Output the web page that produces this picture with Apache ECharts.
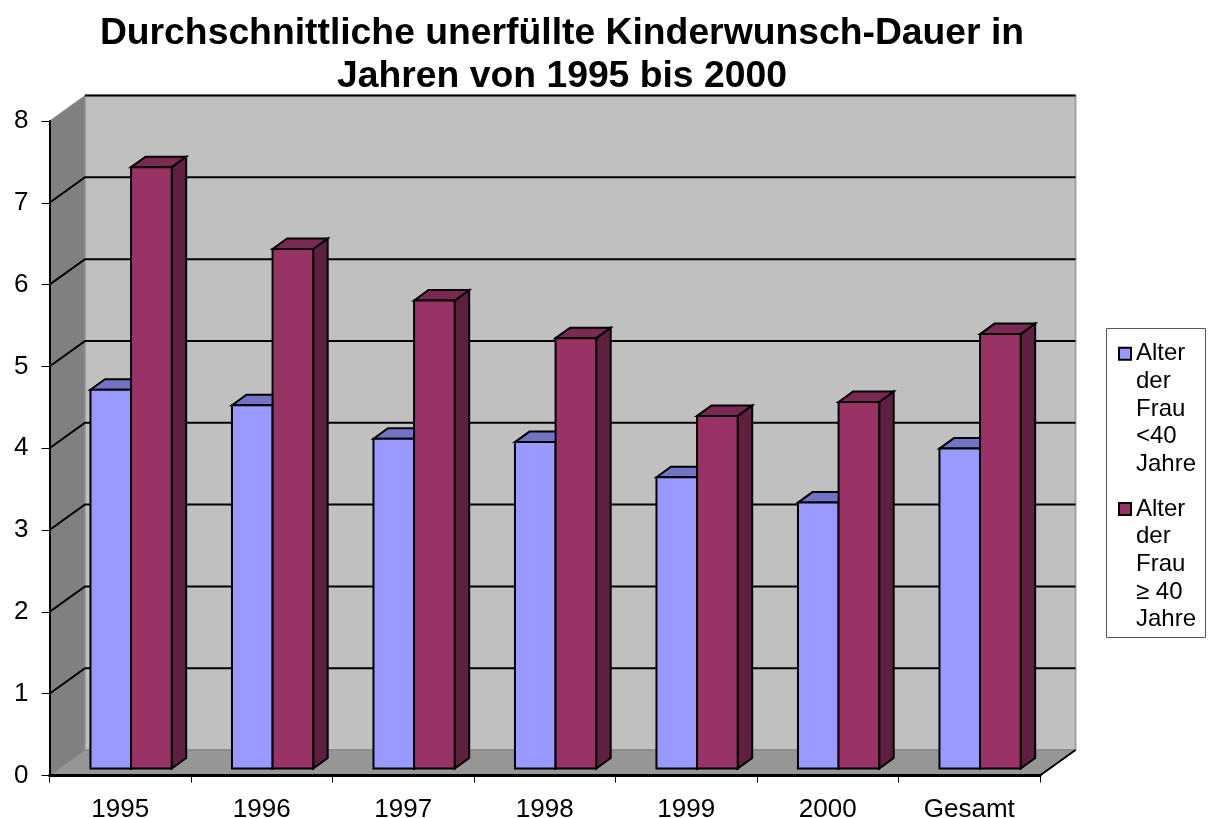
<!DOCTYPE html>
<html>
<head>
<meta charset="utf-8">
<title>Kinderwunsch-Dauer</title>
<script src="https://cdn.jsdelivr.net/npm/echarts@6/dist/echarts.min.js"></script>
<style>
  html, body { margin: 0; padding: 0; background: #fff; }
  #main { width: 1210px; height: 818px; }
</style>
</head>
<body>
<div id="main"></div>
<script>
const categories = ['1995', '1996', '1997', '1998', '1999', '2000', 'Gesamt']
const under40 = [4.63, 4.44, 4.03, 3.99, 3.56, 3.25, 3.91]
const over40 = [7.35, 6.35, 5.72, 5.26, 4.31, 4.48, 5.31]
const gridValues = [1, 2, 3, 4, 5, 6, 7]
const nameUnder40 = 'Alter\nder\nFrau\n<40\nJahre'
const nameOver40 = 'Alter\nder\nFrau\n≥ 40\nJahre'

const FONT = '"Liberation Sans", Arial, sans-serif'
// depth of the fake 3d box and of the bars, in px
const WALL_DX = 35.5
const WALL_DY = -25.5
const BAR_DX = 14.5
const BAR_DY = -10.5

function poly(points, fill, stroke, width) {
  return {
    type: 'polygon',
    shape: { points: points },
    style: { fill: fill, stroke: stroke || 'none', lineWidth: width || 0, lineJoin: 'miter' }
  }
}

function renderWalls(params, api) {
  const c = params.coordSys
  const l = c.x
  const r = c.x + c.width
  const t = c.y
  const b = c.y + c.height
  const top = t + WALL_DY
  const bot = b + WALL_DY
  return {
    type: 'group',
    children: [
      poly([[l + WALL_DX, top], [r + WALL_DX, top], [r + WALL_DX, bot], [l + WALL_DX, bot]], '#c0c0c0', '#a0a0a0', 2),
      poly([[l, t], [l + WALL_DX, top], [l + WALL_DX, bot], [l, b]], '#808080', '#9a9a9a', 1),
      poly([[l, b], [l + WALL_DX, bot], [r + WALL_DX, bot], [r, b]], '#969696', '#808080', 1),
      { type: 'line', shape: { x1: l + WALL_DX, y1: top, x2: r + WALL_DX, y2: top }, style: { stroke: '#000', lineWidth: 2 } },
      { type: 'line', shape: { x1: r, y1: b, x2: r + WALL_DX, y2: bot }, style: { stroke: '#000', lineWidth: 2 } }
    ]
  }
}

function renderGridLine(params, api) {
  const c = params.coordSys
  const y = api.coord([0, api.value(1)])[1]
  return {
    type: 'polyline',
    shape: { points: [[c.x, y], [c.x + WALL_DX, y + WALL_DY], [c.x + c.width + WALL_DX, y + WALL_DY]] },
    style: { fill: 'none', stroke: '#000', lineWidth: 2 }
  }
}

// side: 0 left bar of the pair, 1 right bar
function makeBarRenderer(side, front, topColor, sideColor) {
  return function(params, api) {
    const band = api.size([1, 0])[0]
    const w = band * 0.287
    const base = api.coord([api.value(0), 0])
    const head = api.coord([api.value(0), api.value(1)])
    const x0 = base[0] + band * 0.0765 - w + side * w
    const x1 = x0 + w
    const yb = base[1] - 7
    const yt = head[1] - 7
    return {
      type: 'group',
      children: [
        poly([[x1, yt], [x1 + BAR_DX, yt + BAR_DY], [x1 + BAR_DX, yb + BAR_DY], [x1, yb]], sideColor, '#000', 2),
        poly([[x0, yt], [x0 + BAR_DX, yt + BAR_DY], [x1 + BAR_DX, yt + BAR_DY], [x1, yt]], topColor, '#000', 2),
        poly([[x0, yt], [x1, yt], [x1, yb], [x0, yb]], front, '#000', 2)
      ]
    }
  }
}

const myChart = echarts.init(document.getElementById('main'), null, { renderer: 'canvas' })

myChart.setOption({
  animation: false,
  backgroundColor: '#fff',
  textStyle: { fontFamily: FONT },
  title: {
    text: 'Durchschnittliche unerfüllte Kinderwunsch-Dauer in\nJahren von 1995 bis 2000',
    left: 557,
    top: 7,
    textAlign: 'center',
    textStyle: { fontFamily: FONT, fontSize: 37.3, fontWeight: 'bold', lineHeight: 43, color: '#000' }
  },
  // the marker sits in the middle of the text, so 4 empty lines push it up to the first line
  legend: {
    orient: 'vertical',
    left: 1118,
    top: 229,
    padding: 0,
    itemGap: -94,
    itemWidth: 12,
    itemHeight: 12,
    itemStyle: { borderColor: '#000', borderWidth: 2 },
    selectedMode: false,
    icon: 'rect',
    data: [nameUnder40, nameOver40],
    formatter: function(name) { return '\n\n\n\n' + name },
    textStyle: { fontFamily: FONT, fontSize: 24, lineHeight: 27.7, color: '#000', padding: [0, 0, 0, 0] }
  },
  graphic: [{
    type: 'rect',
    z: -1,
    shape: { x: 1106.5, y: 328.5, width: 99, height: 309 },
    style: { fill: '#fff', stroke: '#555', lineWidth: 1 }
  }],
  // labels run close to the page edge, keep the grid where it was put
  grid: { left: 49.5, top: 121, width: 990.5, height: 654.5, outerBoundsMode: 'none' },
  xAxis: {
    type: 'category',
    data: categories,
    z: 2,
    axisLine: { lineStyle: { color: '#000', width: 3 } },
    axisTick: { show: true, length: 7, lineStyle: { color: '#000', width: 1 } },
    axisLabel: { color: '#000', fontSize: 26, fontFamily: FONT, margin: 21 },
    splitLine: { show: false }
  },
  yAxis: {
    type: 'value',
    min: 0,
    max: 8,
    interval: 1,
    z: 2,
    axisLine: { show: true, lineStyle: { color: '#000', width: 2 } },
    axisTick: { show: true, length: 8, lineStyle: { color: '#000', width: 1 } },
    axisLabel: { color: '#000', fontSize: 26, fontFamily: FONT, margin: 21, padding: [4, 0, 0, 0] },
    splitLine: { show: false }
  },
  series: [
    {
      name: 'walls',
      type: 'custom',
      z: 1,
      silent: true,
      renderItem: renderWalls,
      data: [[0, 0]],
      encode: { x: 0, y: 1 }
    },
    {
      name: 'gridlines',
      type: 'custom',
      z: 1,
      silent: true,
      renderItem: renderGridLine,
      data: gridValues.map(function(v) { return [0, v] }),
      encode: { x: 0, y: 1 }
    },
    {
      name: nameUnder40,
      type: 'custom',
      z: 3,
      itemStyle: { color: '#9999ff' },
      renderItem: makeBarRenderer(0, '#9999ff', '#7373c4', '#5c5c99'),
      data: under40.map(function(v, i) { return [i, v] }),
      encode: { x: 0, y: 1 }
    },
    {
      name: nameOver40,
      type: 'custom',
      z: 4,
      itemStyle: { color: '#993366' },
      renderItem: makeBarRenderer(1, '#993366', '#7a2952', '#5f1f40'),
      data: over40.map(function(v, i) { return [i, v] }),
      encode: { x: 0, y: 1 }
    }
  ]
})
</script>
</body>
</html>
